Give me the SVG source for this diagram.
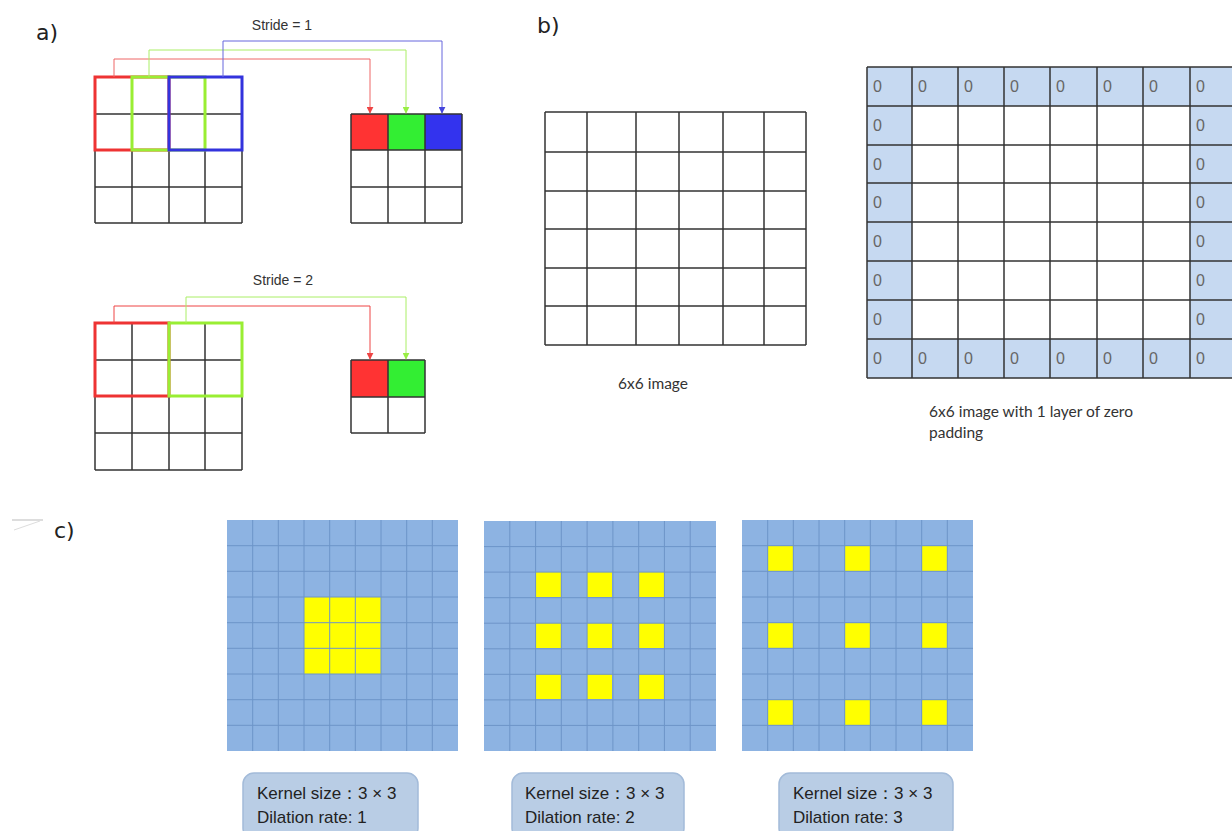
<svg xmlns="http://www.w3.org/2000/svg" width="1232" height="831" viewBox="0 0 1232 831">
<style>
.lbl{font-family:"DejaVu Sans","Liberation Sans",sans-serif;font-size:22px;fill:#222}
.st{font-family:"Liberation Sans",Arial,sans-serif;font-size:14px;fill:#333}
.grid{fill:none;stroke:#333;stroke-width:1.5}
.cap{font-family:"Lato","Noto Sans",sans-serif;font-size:15.5px;fill:#333}
.zero{font-family:"Liberation Sans",Arial,sans-serif;font-size:16px;fill:#666}
.pad{fill:#c6d9f1}
.bg{fill:#8db3e2}
.bl{stroke:#6d94c8;stroke-width:1;fill:none}
.y{fill:#ffff00}
.box{fill:#b9cde5;stroke:#a3bbd9;stroke-width:1.5}
.bt{font-family:"Liberation Sans",Arial,sans-serif;font-size:17px;fill:#222}
</style>
<defs>
<marker id="ar" viewBox="0 0 10 10" refX="9" refY="5" markerWidth="7" markerHeight="7" orient="auto"><path d="M0,0 L10,5 L0,10 z" fill="#ee4444"/></marker>
<marker id="ag" viewBox="0 0 10 10" refX="9" refY="5" markerWidth="7" markerHeight="7" orient="auto"><path d="M0,0 L10,5 L0,10 z" fill="#99ee44"/></marker>
<marker id="ab" viewBox="0 0 10 10" refX="9" refY="5" markerWidth="7" markerHeight="7" orient="auto"><path d="M0,0 L10,5 L0,10 z" fill="#4444dd"/></marker>
</defs>
<rect width="1232" height="831" fill="#fff"/>

<!-- a) -->
<text class="lbl" x="36" y="40">a)</text>
<text class="st" x="282" y="30" text-anchor="middle">Stride = 1</text>
<g id="a1-input">
<path class="grid" d="M95,77H242M95,114H242M95,150H242M95,187H242M95,223H242M95,77V223M132,77V223M169,77V223M205,77V223M242,77V223"/>
<rect x="95" y="77" width="74" height="73" fill="none" stroke="#ee3333" stroke-width="3"/>
<rect x="132" y="77" width="73" height="73" fill="none" stroke="#99ee33" stroke-width="3"/>
<rect x="169" y="77" width="73" height="73" fill="none" stroke="#3333dd" stroke-width="3"/>
</g>
<g id="a1-output">
<rect x="351" y="114" width="37" height="36" fill="#ff3333"/>
<rect x="388" y="114" width="37" height="36" fill="#33ee33"/>
<rect x="425" y="114" width="37" height="36" fill="#3333ee"/>
<path class="grid" d="M351,114H462M351,150H462M351,187H462M351,223H462M351,114V223M388,114V223M425,114V223M462,114V223"/>
</g>
<text class="st" x="283" y="285" text-anchor="middle">Stride = 2</text>
<g id="a2-input">
<path class="grid" d="M95,323H242M95,360H242M95,396H242M95,433H242M95,470H242M95,323V470M132,323V470M169,323V470M205,323V470M242,323V470"/>
<rect x="95" y="323" width="74" height="73" fill="none" stroke="#ee3333" stroke-width="3"/>
<rect x="169" y="323" width="73" height="73" fill="none" stroke="#99ee33" stroke-width="3"/>
</g>
<g id="a2-output">
<rect x="351" y="360" width="37" height="37" fill="#ff3333"/>
<rect x="388" y="360" width="37" height="37" fill="#33ee33"/>
<path class="grid" d="M351,360H425M351,397H425M351,433H425M351,360V433M388,360V433M425,360V433"/>
</g>
<g id="connectors" fill="none" stroke-width="1">
<path d="M114,77V59H370V113" stroke="#ee6666" marker-end="url(#ar)"/>
<path d="M149,77V50H406V113" stroke="#aaee66" marker-end="url(#ag)"/>
<path d="M223,77V41H442V113" stroke="#6666dd" marker-end="url(#ab)"/>
<path d="M114,323V306H370V359" stroke="#ee4444" marker-end="url(#ar)"/>
<path d="M186,323V297H406V359" stroke="#aaee66" marker-end="url(#ag)"/>
</g>

<!-- b) -->
<text class="lbl" x="537" y="33">b)</text>
<g id="b-image">
<path class="grid" stroke-width="2" d="M545,112H806M545,152H806M545,191H806M545,229H806M545,268H806M545,306H806M545,345H806M545,112V345M587,112V345M636,112V345M679,112V345M723,112V345M764,112V345M806,112V345"/>
<text class="cap" x="653" y="389" text-anchor="middle">6x6 image</text>
</g>
<g id="b-padded">
<rect class="pad" x="867" y="67" width="369" height="39"/>
<rect class="pad" x="867" y="339" width="369" height="39"/>
<rect class="pad" x="867" y="106" width="45" height="233"/>
<rect class="pad" x="1190" y="106" width="46" height="233"/>
<path class="grid" stroke-width="2" d="M867,67H1236M867,106H1236M867,145H1236M867,183H1236M867,222H1236M867,261H1236M867,300H1236M867,339H1236M867,378H1236M867,67V378M912,67V378M958,67V378M1004,67V378M1050,67V378M1097,67V378M1143,67V378M1190,67V378"/>
<g class="zero">
<text x="873" y="92">0</text><text x="918" y="92">0</text><text x="964" y="92">0</text><text x="1010" y="92">0</text><text x="1056" y="92">0</text><text x="1103" y="92">0</text><text x="1149" y="92">0</text><text x="1196" y="92">0</text>
<text x="873" y="131">0</text><text x="1196" y="131">0</text>
<text x="873" y="170">0</text><text x="1196" y="170">0</text>
<text x="873" y="208">0</text><text x="1196" y="208">0</text>
<text x="873" y="247">0</text><text x="1196" y="247">0</text>
<text x="873" y="286">0</text><text x="1196" y="286">0</text>
<text x="873" y="325">0</text><text x="1196" y="325">0</text>
<text x="873" y="364">0</text><text x="918" y="364">0</text><text x="964" y="364">0</text><text x="1010" y="364">0</text><text x="1056" y="364">0</text><text x="1103" y="364">0</text><text x="1149" y="364">0</text><text x="1196" y="364">0</text>
</g>
<text class="cap" x="929" y="417">6x6 image with 1 layer of zero</text>
<text class="cap" x="929" y="438">padding</text>
</g>

<!-- c) -->
<path d="M12,520H43" stroke="#bbb" stroke-width="1"/>
<path d="M14,530L40,521" stroke="#ddd" stroke-width="1"/>
<text class="lbl" x="54" y="538">c)</text>
<g id="c1">
<rect class="bg" x="227" y="520" width="231" height="231"/>
<rect class="y" x="304" y="597" width="77" height="77"/>
<path class="bl" d="M227,545.7H458M227,571.3H458M227,597H458M227,622.7H458M227,648.3H458M227,674H458M227,699.7H458M227,725.3H458M252.7,520V751M278.3,520V751M304,520V751M329.7,520V751M355.3,520V751M381,520V751M406.7,520V751M432.3,520V751"/>
</g>
<g id="c2">
<rect class="bg" x="484" y="521" width="232" height="230"/>
<g class="y">
<rect x="536" y="572" width="25" height="25"/><rect x="587" y="572" width="25" height="25"/><rect x="639" y="572" width="25" height="25"/>
<rect x="536" y="623" width="25" height="25"/><rect x="587" y="623" width="25" height="25"/><rect x="639" y="623" width="25" height="25"/>
<rect x="536" y="674" width="25" height="25"/><rect x="587" y="674" width="25" height="25"/><rect x="639" y="674" width="25" height="25"/>
</g>
<path class="bl" d="M484,546.6H716M484,572.1H716M484,597.7H716M484,623.2H716M484,648.8H716M484,674.3H716M484,699.9H716M484,725.4H716M509.8,521V751M535.6,521V751M561.3,521V751M587.1,521V751M612.9,521V751M638.7,521V751M664.4,521V751M690.2,521V751"/>
</g>
<g id="c3">
<rect class="bg" x="742" y="520" width="231" height="231"/>
<g class="y">
<rect x="768" y="546" width="25" height="25"/><rect x="845" y="546" width="25" height="25"/><rect x="922" y="546" width="25" height="25"/>
<rect x="768" y="623" width="25" height="25"/><rect x="845" y="623" width="25" height="25"/><rect x="922" y="623" width="25" height="25"/>
<rect x="768" y="700" width="25" height="25"/><rect x="845" y="700" width="25" height="25"/><rect x="922" y="700" width="25" height="25"/>
</g>
<path class="bl" d="M742,545.7H973M742,571.3H973M742,597H973M742,622.7H973M742,648.3H973M742,674H973M742,699.7H973M742,725.3H973M767.7,520V751M793.3,520V751M819,520V751M844.7,520V751M870.3,520V751M896,520V751M921.7,520V751M947.3,520V751"/>
</g>
<g id="label1">
<rect class="box" x="243" y="773" width="175" height="66" rx="11"/>
<text class="bt" x="257" y="799">Kernel size：3 × 3</text>
<text class="bt" x="257" y="823">Dilation rate: 1</text>
</g>
<g id="label2">
<rect class="box" x="512" y="773" width="172" height="66" rx="11"/>
<text class="bt" x="525" y="799">Kernel size：3 × 3</text>
<text class="bt" x="525" y="823">Dilation rate: 2</text>
</g>
<g id="label3">
<rect class="box" x="779" y="773" width="174" height="66" rx="11"/>
<text class="bt" x="793" y="799">Kernel size：3 × 3</text>
<text class="bt" x="793" y="823">Dilation rate: 3</text>
</g>
</svg>
